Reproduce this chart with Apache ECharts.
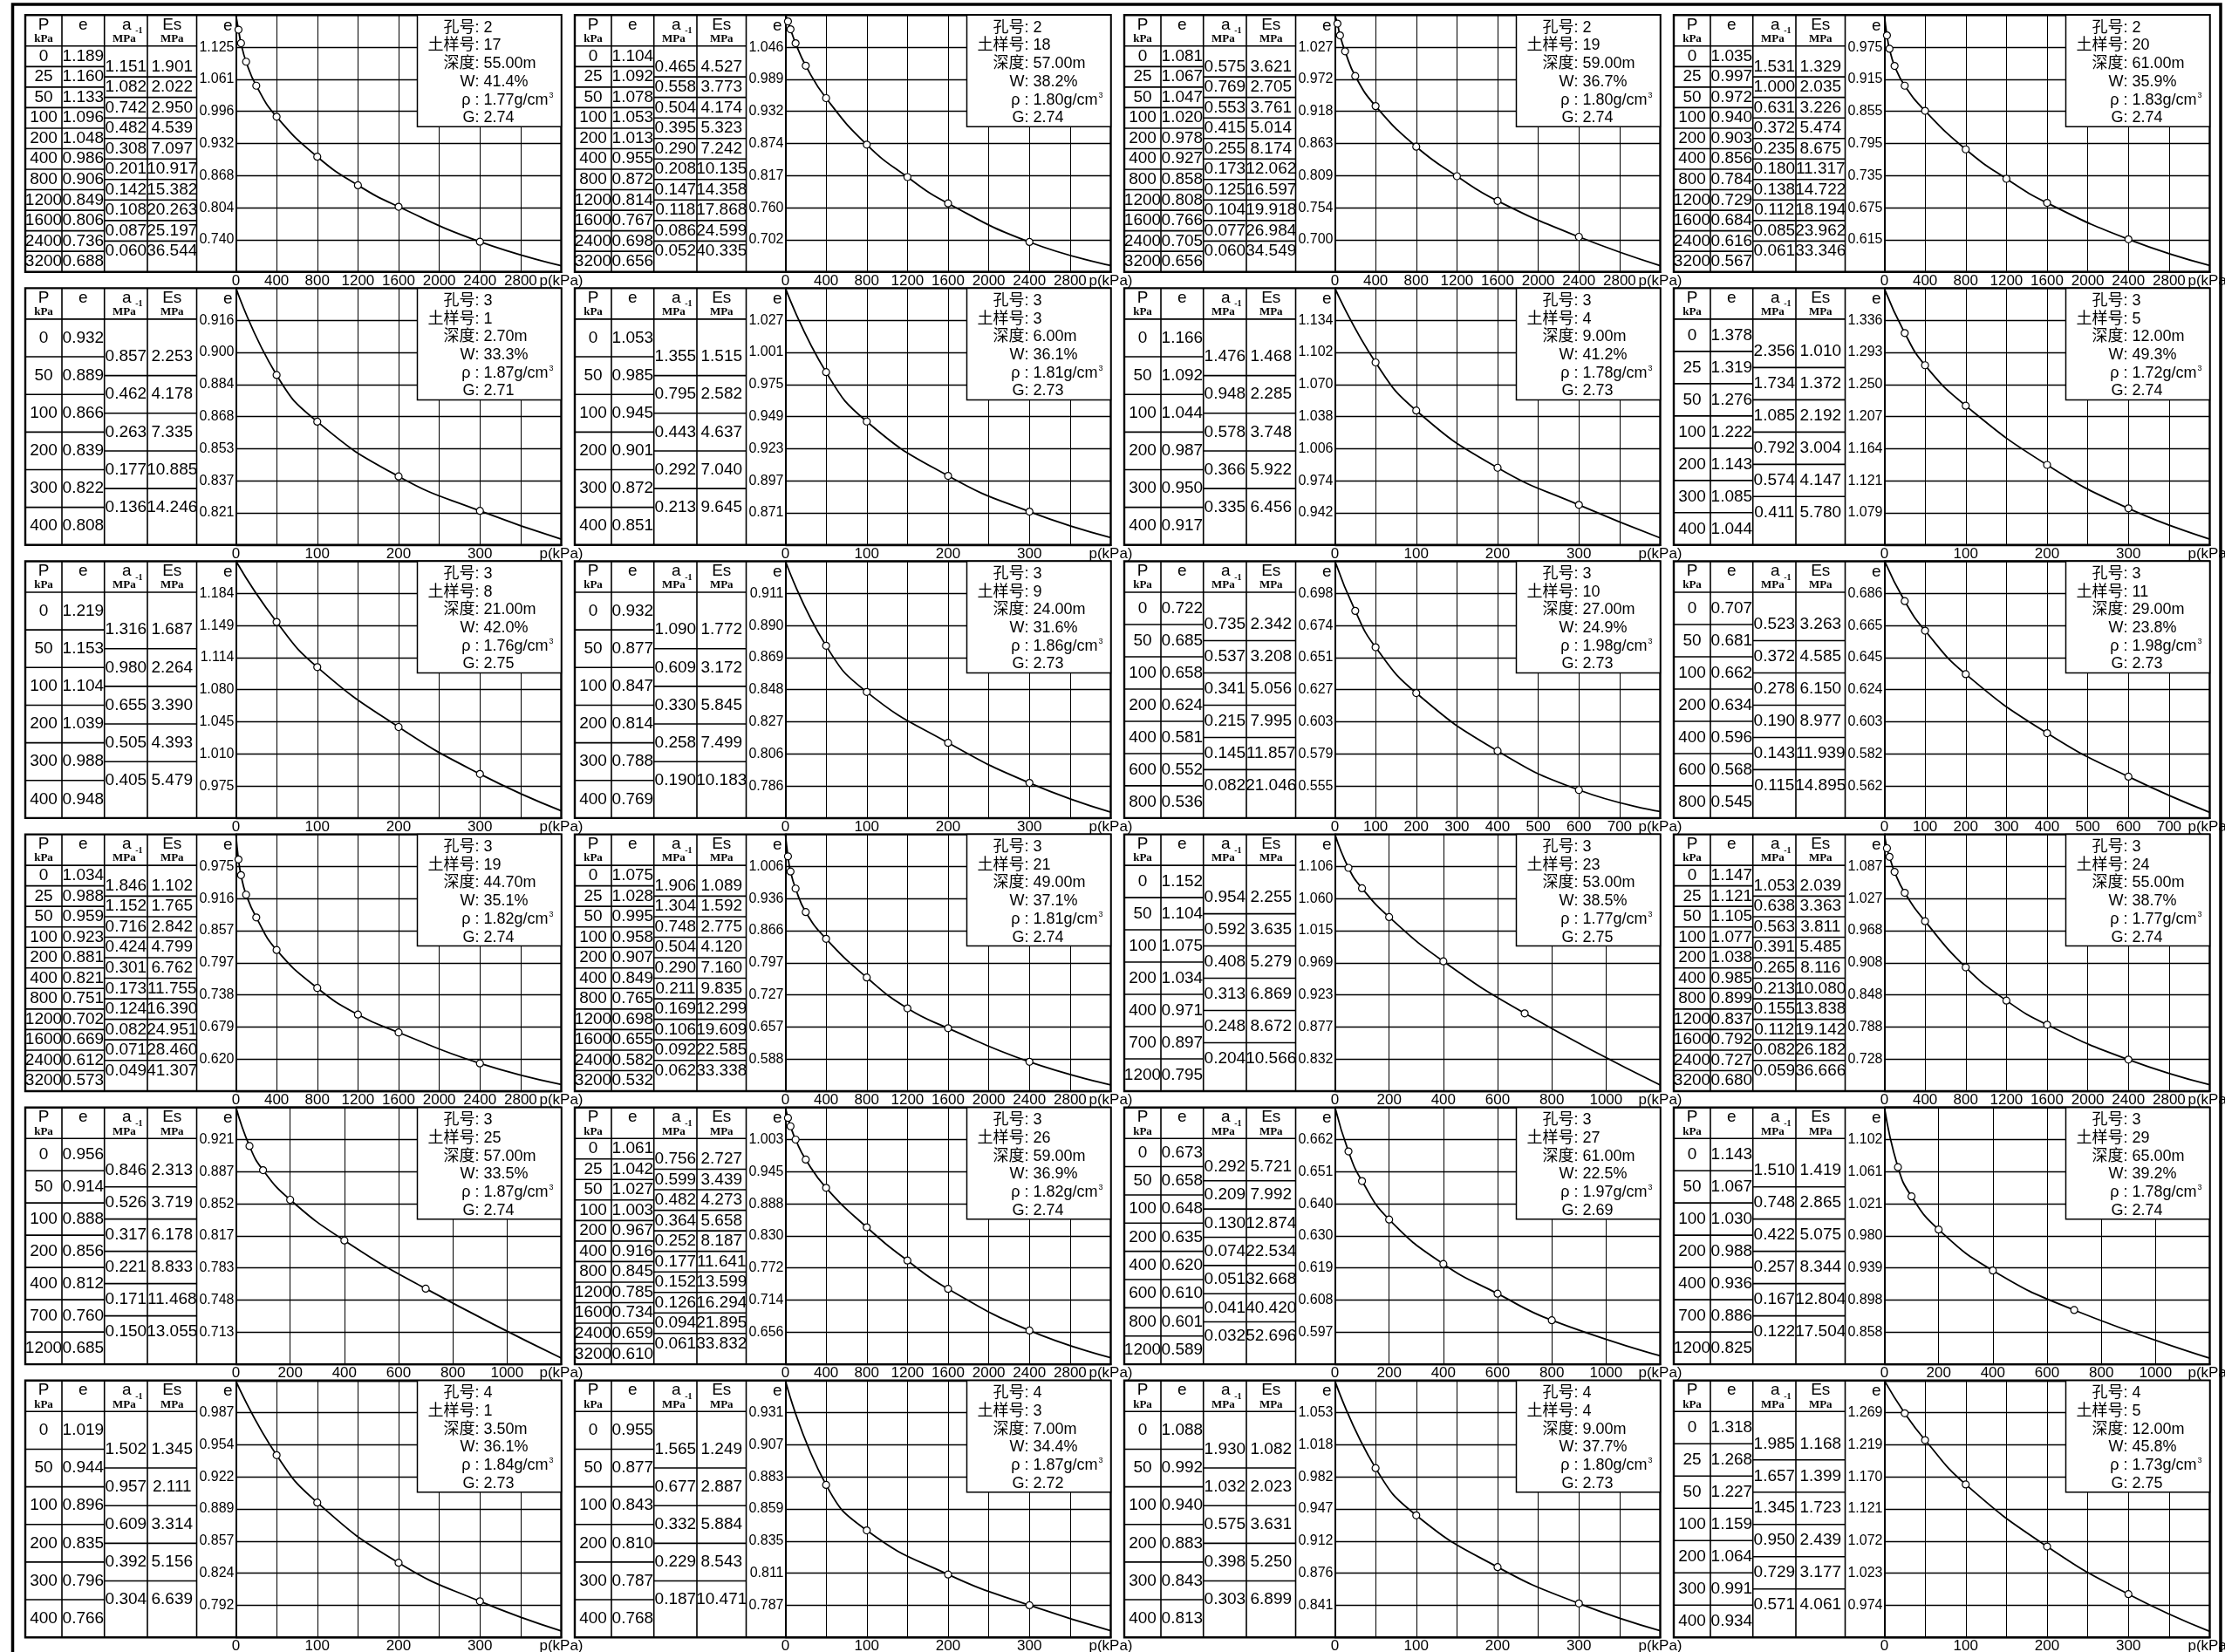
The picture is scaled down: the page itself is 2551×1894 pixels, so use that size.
<!DOCTYPE html>
<html>
<head>
<meta charset="utf-8">
<title>e-p 曲线</title>
<script src="https://cdn.jsdelivr.net/npm/echarts@6/dist/echarts.min.js"></script>
<style>
  html, body { margin: 0; padding: 0; background: #fff; }
  #chart { width: 2551px; height: 1894px; }
</style>
</head>
<body>
<div id="chart"></div>
<script>
// ---- pressure steps (kPa) used by the consolidation tests ----
const P_LONG  = [0, 25, 50, 100, 200, 400, 800, 1200, 1600, 2400, 3200];
const P_400   = [0, 50, 100, 200, 300, 400];
const P_400B  = [0, 25, 50, 100, 200, 300, 400];
const P_800   = [0, 50, 100, 200, 400, 600, 800];
const P_1200  = [0, 50, 100, 200, 400, 700, 1200];
const P_1200B = [0, 50, 100, 200, 400, 600, 800, 1200];

// ---- samples, sheet order: row by row, left to right ----
const holeNo   = [2, 2, 2, 2,  3, 3, 3, 3,  3, 3, 3, 3,  3, 3, 3, 3,  3, 3, 3, 3,  4, 4, 4, 4];
const sampleNo = [17, 18, 19, 20,  1, 3, 4, 5,  8, 9, 10, 11,  19, 21, 23, 24,  25, 26, 27, 29,  1, 3, 4, 5];
const depth    = ['55.00', '57.00', '59.00', '61.00', '2.70', '6.00', '9.00', '12.00',
                  '21.00', '24.00', '27.00', '29.00', '44.70', '49.00', '53.00', '55.00',
                  '57.00', '59.00', '61.00', '65.00', '3.50', '7.00', '9.00', '12.00'];
const water    = ['41.4', '38.2', '36.7', '35.9', '33.3', '36.1', '41.2', '49.3',
                  '42.0', '31.6', '24.9', '23.8', '35.1', '37.1', '38.5', '38.7',
                  '33.5', '36.9', '22.5', '39.2', '36.1', '34.4', '37.7', '45.8'];
const density  = ['1.77', '1.80', '1.80', '1.83', '1.87', '1.81', '1.78', '1.72',
                  '1.76', '1.86', '1.98', '1.98', '1.82', '1.81', '1.77', '1.77',
                  '1.87', '1.82', '1.97', '1.78', '1.84', '1.87', '1.80', '1.73'];
const gravity  = ['2.74', '2.74', '2.74', '2.74', '2.71', '2.73', '2.73', '2.74',
                  '2.75', '2.73', '2.73', '2.73', '2.74', '2.74', '2.75', '2.74',
                  '2.74', '2.74', '2.69', '2.74', '2.73', '2.72', '2.73', '2.75'];

const pressure = [P_LONG, P_LONG, P_LONG, P_LONG,  P_400, P_400, P_400, P_400B,
                  P_400, P_400, P_800, P_800,  P_LONG, P_LONG, P_1200, P_LONG,
                  P_1200, P_LONG, P_1200B, P_1200,  P_400, P_400, P_400, P_400B];

// void ratio e at each pressure step
const voidRatio = [
  [1.189, 1.160, 1.133, 1.096, 1.048, 0.986, 0.906, 0.849, 0.806, 0.736, 0.688],
  [1.104, 1.092, 1.078, 1.053, 1.013, 0.955, 0.872, 0.814, 0.767, 0.698, 0.656],
  [1.081, 1.067, 1.047, 1.020, 0.978, 0.927, 0.858, 0.808, 0.766, 0.705, 0.656],
  [1.035, 0.997, 0.972, 0.940, 0.903, 0.856, 0.784, 0.729, 0.684, 0.616, 0.567],
  [0.932, 0.889, 0.866, 0.839, 0.822, 0.808],
  [1.053, 0.985, 0.945, 0.901, 0.872, 0.851],
  [1.166, 1.092, 1.044, 0.987, 0.950, 0.917],
  [1.378, 1.319, 1.276, 1.222, 1.143, 1.085, 1.044],
  [1.219, 1.153, 1.104, 1.039, 0.988, 0.948],
  [0.932, 0.877, 0.847, 0.814, 0.788, 0.769],
  [0.722, 0.685, 0.658, 0.624, 0.581, 0.552, 0.536],
  [0.707, 0.681, 0.662, 0.634, 0.596, 0.568, 0.545],
  [1.034, 0.988, 0.959, 0.923, 0.881, 0.821, 0.751, 0.702, 0.669, 0.612, 0.573],
  [1.075, 1.028, 0.995, 0.958, 0.907, 0.849, 0.765, 0.698, 0.655, 0.582, 0.532],
  [1.152, 1.104, 1.075, 1.034, 0.971, 0.897, 0.795],
  [1.147, 1.121, 1.105, 1.077, 1.038, 0.985, 0.899, 0.837, 0.792, 0.727, 0.680],
  [0.956, 0.914, 0.888, 0.856, 0.812, 0.760, 0.685],
  [1.061, 1.042, 1.027, 1.003, 0.967, 0.916, 0.845, 0.785, 0.734, 0.659, 0.610],
  [0.673, 0.658, 0.648, 0.635, 0.620, 0.610, 0.601, 0.589],
  [1.143, 1.067, 1.030, 0.988, 0.936, 0.886, 0.825],
  [1.019, 0.944, 0.896, 0.835, 0.796, 0.766],
  [0.955, 0.877, 0.843, 0.810, 0.787, 0.768],
  [1.088, 0.992, 0.940, 0.883, 0.843, 0.813],
  [1.318, 1.268, 1.227, 1.159, 1.064, 0.991, 0.934]
];

// coefficient of compressibility a (MPa^-1) between consecutive steps
const compressCoef = [
  [1.151, 1.082, 0.742, 0.482, 0.308, 0.201, 0.142, 0.108, 0.087, 0.060],
  [0.465, 0.558, 0.504, 0.395, 0.290, 0.208, 0.147, 0.118, 0.086, 0.052],
  [0.575, 0.769, 0.553, 0.415, 0.255, 0.173, 0.125, 0.104, 0.077, 0.060],
  [1.531, 1.000, 0.631, 0.372, 0.235, 0.180, 0.138, 0.112, 0.085, 0.061],
  [0.857, 0.462, 0.263, 0.177, 0.136],
  [1.355, 0.795, 0.443, 0.292, 0.213],
  [1.476, 0.948, 0.578, 0.366, 0.335],
  [2.356, 1.734, 1.085, 0.792, 0.574, 0.411],
  [1.316, 0.980, 0.655, 0.505, 0.405],
  [1.090, 0.609, 0.330, 0.258, 0.190],
  [0.735, 0.537, 0.341, 0.215, 0.145, 0.082],
  [0.523, 0.372, 0.278, 0.190, 0.143, 0.115],
  [1.846, 1.152, 0.716, 0.424, 0.301, 0.173, 0.124, 0.082, 0.071, 0.049],
  [1.906, 1.304, 0.748, 0.504, 0.290, 0.211, 0.169, 0.106, 0.092, 0.062],
  [0.954, 0.592, 0.408, 0.313, 0.248, 0.204],
  [1.053, 0.638, 0.563, 0.391, 0.265, 0.213, 0.155, 0.112, 0.082, 0.059],
  [0.846, 0.526, 0.317, 0.221, 0.171, 0.150],
  [0.756, 0.599, 0.482, 0.364, 0.252, 0.177, 0.152, 0.126, 0.094, 0.061],
  [0.292, 0.209, 0.130, 0.074, 0.051, 0.041, 0.032],
  [1.510, 0.748, 0.422, 0.257, 0.167, 0.122],
  [1.502, 0.957, 0.609, 0.392, 0.304],
  [1.565, 0.677, 0.332, 0.229, 0.187],
  [1.930, 1.032, 0.575, 0.398, 0.303],
  [1.985, 1.657, 1.345, 0.950, 0.729, 0.571]
];

// compression modulus Es (MPa) between consecutive steps
const modulus = [
  [1.901, 2.022, 2.950, 4.539, 7.097, 10.917, 15.382, 20.263, 25.197, 36.544],
  [4.527, 3.773, 4.174, 5.323, 7.242, 10.135, 14.358, 17.868, 24.599, 40.335],
  [3.621, 2.705, 3.761, 5.014, 8.174, 12.062, 16.597, 19.918, 26.984, 34.549],
  [1.329, 2.035, 3.226, 5.474, 8.675, 11.317, 14.722, 18.194, 23.962, 33.346],
  [2.253, 4.178, 7.335, 10.885, 14.246],
  [1.515, 2.582, 4.637, 7.040, 9.645],
  [1.468, 2.285, 3.748, 5.922, 6.456],
  [1.010, 1.372, 2.192, 3.004, 4.147, 5.780],
  [1.687, 2.264, 3.390, 4.393, 5.479],
  [1.772, 3.172, 5.845, 7.499, 10.183],
  [2.342, 3.208, 5.056, 7.995, 11.857, 21.046],
  [3.263, 4.585, 6.150, 8.977, 11.939, 14.895],
  [1.102, 1.765, 2.842, 4.799, 6.762, 11.755, 16.390, 24.951, 28.460, 41.307],
  [1.089, 1.592, 2.775, 4.120, 7.160, 9.835, 12.299, 19.609, 22.585, 33.338],
  [2.255, 3.635, 5.279, 6.869, 8.672, 10.566],
  [2.039, 3.363, 3.811, 5.485, 8.116, 10.080, 13.838, 19.142, 26.182, 36.666],
  [2.313, 3.719, 6.178, 8.833, 11.468, 13.055],
  [2.727, 3.439, 4.273, 5.658, 8.187, 11.641, 13.599, 16.294, 21.895, 33.832],
  [5.721, 7.992, 12.874, 22.534, 32.668, 40.420, 52.696],
  [1.419, 2.865, 5.075, 8.344, 12.804, 17.504],
  [1.345, 2.111, 3.314, 5.156, 6.639],
  [1.249, 2.887, 5.884, 8.543, 10.471],
  [1.082, 2.023, 3.631, 5.250, 6.899],
  [1.168, 1.399, 1.723, 2.439, 3.177, 4.061]
];

// e-axis tick labels, top to bottom (seven inner grid lines)
const yTicks = [
  [1.125, 1.061, 0.996, 0.932, 0.868, 0.804, 0.740],
  [1.046, 0.989, 0.932, 0.874, 0.817, 0.760, 0.702],
  [1.027, 0.972, 0.918, 0.863, 0.809, 0.754, 0.700],
  [0.975, 0.915, 0.855, 0.795, 0.735, 0.675, 0.615],
  [0.916, 0.900, 0.884, 0.868, 0.853, 0.837, 0.821],
  [1.027, 1.001, 0.975, 0.949, 0.923, 0.897, 0.871],
  [1.134, 1.102, 1.070, 1.038, 1.006, 0.974, 0.942],
  [1.336, 1.293, 1.250, 1.207, 1.164, 1.121, 1.079],
  [1.184, 1.149, 1.114, 1.080, 1.045, 1.010, 0.975],
  [0.911, 0.890, 0.869, 0.848, 0.827, 0.806, 0.786],
  [0.698, 0.674, 0.651, 0.627, 0.603, 0.579, 0.555],
  [0.686, 0.665, 0.645, 0.624, 0.603, 0.582, 0.562],
  [0.975, 0.916, 0.857, 0.797, 0.738, 0.679, 0.620],
  [1.006, 0.936, 0.866, 0.797, 0.727, 0.657, 0.588],
  [1.106, 1.060, 1.015, 0.969, 0.923, 0.877, 0.832],
  [1.087, 1.027, 0.968, 0.908, 0.848, 0.788, 0.728],
  [0.921, 0.887, 0.852, 0.817, 0.783, 0.748, 0.713],
  [1.003, 0.945, 0.888, 0.830, 0.772, 0.714, 0.656],
  [0.662, 0.651, 0.640, 0.630, 0.619, 0.608, 0.597],
  [1.102, 1.061, 1.021, 0.980, 0.939, 0.898, 0.858],
  [0.987, 0.954, 0.922, 0.889, 0.857, 0.824, 0.792],
  [0.931, 0.907, 0.883, 0.859, 0.835, 0.811, 0.787],
  [1.053, 1.018, 0.982, 0.947, 0.912, 0.876, 0.841],
  [1.269, 1.219, 1.170, 1.121, 1.072, 1.023, 0.974]
];

// p-axis grid spacing and labelled spacing, keyed by the last pressure step
const pGridStep  = { 400: 50, 800: 100, 1200: 200, 3200: 400 };
const pLabelStep = { 400: 100, 800: 100, 1200: 200, 3200: 400 };

// ---- sheet layout (px) ----
const PANEL_X0 = 29, PANEL_DX = 630;
const PANEL_Y0 = 17.3, PANEL_DY = 313.1;
const PANEL_W = 614.5, PANEL_H = 294.4;
const TABLE_W = 241.5;                   // table + e-label strip left of the plot
const COLS = [0, 42, 90.7, 140, 196.5];  // column edges of P / e / a / Es
const HEADER_H = 35.5;
const BOX_DX = 208, BOX_H = 128;          // sample info box inside the plot

const NARROW = '"Liberation Sans Narrow","Liberation Sans","Noto Sans CJK SC",sans-serif';
const SERIF = '"Liberation Serif","DejaVu Serif",serif';

const graphics = [];
const grids = [], xAxes = [], yAxes = [], series = [];

function gLine(x1, y1, x2, y2, w) {
  graphics.push({ type: 'line', silent: true, z: 6,
    shape: { x1, y1, x2, y2 }, style: { stroke: '#000', lineWidth: w } });
}
function gText(text, x, y, opt) {
  const o = opt || {};
  graphics.push({ type: 'text', silent: true, z: o.z || 7,
    style: Object.assign({ text, x, y, align: o.align || 'center', verticalAlign: 'middle',
      fontSize: o.size || 19, fontFamily: o.family || NARROW, fontWeight: o.weight || 'normal',
      fill: '#000' }, o.extra || {}) });
}

for (let k = 0; k < pressure.length; k++) {
  const col = k % 4, row = Math.floor(k / 4);
  const px = PANEL_X0 + col * PANEL_DX;
  const py = PANEL_Y0 + row * PANEL_DY;
  const P = pressure[k], e = voidRatio[k], a = compressCoef[k], Es = modulus[k];
  const n = P.length;
  const rowH = (PANEL_H - HEADER_H) / n;
  const colC = i => px + (COLS[i] + COLS[i + 1]) / 2;

  // ---- table ----
  graphics.push({ type: 'rect', silent: true, z: 8,
    shape: { x: px, y: py, width: PANEL_W, height: PANEL_H },
    style: { fill: null, stroke: '#000', lineWidth: 2.4 } });
  for (let i = 1; i < COLS.length; i++) gLine(px + COLS[i], py, px + COLS[i], py + PANEL_H, 1.6);
  gLine(px, py + HEADER_H, px + COLS[4], py + HEADER_H, 1.6);
  for (let i = 1; i < n; i++) {
    const y = py + HEADER_H + i * rowH;
    gLine(px, y, px + COLS[2], y, 1.6);
  }
  for (let i = 1; i <= n - 2; i++) {
    const y = py + HEADER_H + (i + 0.5) * rowH;
    gLine(px + COLS[2], y, px + COLS[4], y, 1.6);
  }

  // header
  gText('P', colC(0), py + 11, { size: 19 });
  gText('kPa', colC(0), py + 27.5, { size: 13, family: SERIF, weight: 'bold' });
  gText('e', colC(1), py + 11, { size: 19 });
  gText('a', colC(2) + 1, py + 11, { size: 19 });
  gText('MPa', colC(2) - 2, py + 27.5, { size: 13, family: SERIF, weight: 'bold' });
  gText('-1', colC(2) + 15, py + 18.5, { size: 10, family: SERIF, weight: 'bold' });
  gText('Es', colC(3), py + 11, { size: 19 });
  gText('MPa', colC(3), py + 27.5, { size: 13, family: SERIF, weight: 'bold' });

  // body
  for (let i = 0; i < n; i++) {
    const y = py + HEADER_H + (i + 0.5) * rowH;
    gText(String(P[i]), colC(0), y);
    gText(e[i].toFixed(3), colC(1), y);
  }
  for (let i = 0; i < n - 1; i++) {
    const y = py + HEADER_H + (i + 1) * rowH;
    gText(a[i].toFixed(3), colC(2), y);
    gText(Es[i].toFixed(3), colC(3), y);
  }

  // ---- sample info box ----
  const plotL = px + TABLE_W, plotR = px + PANEL_W;
  const bx = plotL + BOX_DX;
  graphics.push({ type: 'rect', silent: true, z: 9,
    shape: { x: bx, y: py, width: plotR - bx, height: BOX_H },
    style: { fill: '#fff', stroke: '#000', lineWidth: 1.5 } });
  const names = ['孔号', '土样号', '深度', 'W', 'ρ ', 'G'];
  const vals = [': ' + holeNo[k], ': ' + sampleNo[k], ': ' + depth[k] + 'm',
                ': ' + water[k] + '%', null, ': ' + gravity[k]];
  for (let i = 0; i < names.length; i++) {
    const y = py + 14.5 + 20.7 * i;
    gText(names[i], bx + 66, y, { size: 18, align: 'right', z: 10 });
    if (vals[i] !== null) {
      gText(vals[i], bx + 66, y, { size: 18, align: 'left', z: 10 });
    } else {
      gText('{v|: ' + density[k] + 'g/cm}{s|3}', bx + 66, y, { size: 18, align: 'left', z: 10,
        extra: { rich: {
          v: { fontSize: 18, fontFamily: NARROW, fill: '#000', lineHeight: 20 },
          s: { fontSize: 9, fontFamily: NARROW, fill: '#000', verticalAlign: 'top', lineHeight: 20, padding: [0, 0, 0, 1] }
        } } });
    }
  }

  // ---- e-p plot ----
  const pMax = P[n - 1];
  const yt = yTicks[k];
  const step = (yt[0] - yt[6]) / 6;
  const yMax = yt[0] + step, yMin = yt[6] - step;

  grids.push({ left: plotL, top: py, width: PANEL_W - TABLE_W, height: PANEL_H,
    show: false, containLabel: false, outerBoundsMode: 'none' });

  xAxes.push({
    gridIndex: k, type: 'value', min: 0, max: pMax, interval: pGridStep[pMax],
    axisLine: { show: true, onZero: false, lineStyle: { color: '#000', width: 2 } },
    axisTick: { show: false },
    splitLine: { show: true, lineStyle: { color: '#000', width: 1 } },
    axisLabel: {
      show: true, margin: 2, fontSize: 17, fontFamily: NARROW, color: '#000',
      showMinLabel: true, showMaxLabel: true, hideOverlap: false,
      formatter: v => (Math.abs(v - pMax) < 1e-6 ? 'p(kPa)'
        : (Math.round(v) % pLabelStep[pMax] === 0 ? String(Math.round(v)) : ''))
    }
  });

  yAxes.push({
    gridIndex: k, type: 'value', min: yMin, max: yMax, interval: step,
    name: 'e', nameLocation: 'end', nameGap: -12, nameMoveOverlap: false,
    nameTextStyle: { fontSize: 19, fontFamily: NARROW, color: '#000',
      align: 'right', verticalAlign: 'middle', padding: [0, 4, 0, 0] },
    axisLine: { show: true, onZero: false, lineStyle: { color: '#000', width: 2 } },
    axisTick: { show: false },
    splitLine: { show: true, lineStyle: { color: '#000', width: 1.4 } },
    axisLabel: {
      show: true, margin: 2, fontSize: 16, fontFamily: NARROW, color: '#000',
      showMinLabel: true, showMaxLabel: true, hideOverlap: false,
      formatter: v => {
        const i = Math.round((v - yMin) / step);
        return (i >= 1 && i <= 7) ? yt[7 - i].toFixed(3) : '';
      }
    }
  });

  series.push({
    type: 'line', xAxisIndex: k, yAxisIndex: k,
    smooth: 0.5, clip: false, silent: true,
    symbol: 'circle', symbolSize: 8, showSymbol: true, showAllSymbol: true,
    lineStyle: { color: '#000', width: 1.8 },
    itemStyle: { color: '#fff', borderColor: '#000', borderWidth: 1.2 },
    data: P.map((p, i) => (i === 0 || i === n - 1)
      ? { value: [p, e[i]], symbol: 'none' }
      : { value: [p, e[i]] }),
    z: 3
  });
}

// sheet border
graphics.push({ type: 'rect', silent: true, z: 11,
  shape: { x: 14.5, y: 5, width: 2531.5, height: 1900 },
  style: { fill: null, stroke: '#000', lineWidth: 3.5 } });

const chart = echarts.init(document.getElementById('chart'), null, { renderer: 'canvas' });
chart.setOption({
  animation: false,
  backgroundColor: '#fff',
  grid: grids,
  xAxis: xAxes,
  yAxis: yAxes,
  series: series,
  graphic: { elements: graphics }
});
</script>
</body>
</html>
